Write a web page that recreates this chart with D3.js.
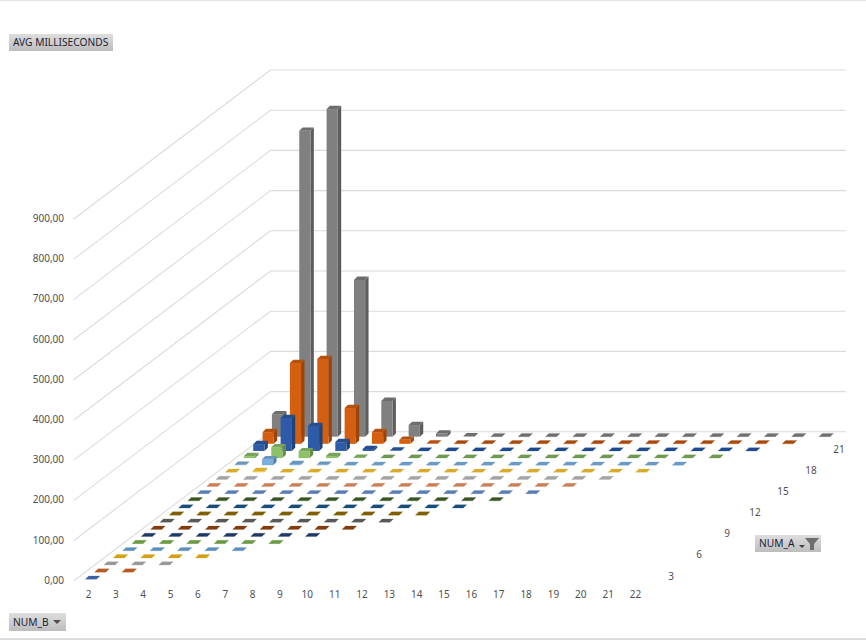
<!DOCTYPE html>
<html>
<head>
<meta charset="utf-8">
<script src="https://cdn.jsdelivr.net/npm/d3@7"></script>
<style>
  html, body { margin: 0; padding: 0; background: #fff; }
  text { font-family: "Noto Sans", sans-serif; }
</style>
</head>
<body>
<svg id="chart" width="866" height="640"></svg>
<script>
// NUM_B runs along the front, NUM_A goes back into the picture
var numB = d3.range(2, 23)
var numA = d3.range(1, 22)
var valueTicks = [0, 100, 200, 300, 400, 500, 600, 700, 800, 900]
var depthTicks = [3, 6, 9, 12, 15, 18, 21]

// only the back rows rise off the floor, the rest are all zero
var row21 = [56, 761, 815, 390, 89, 29, 8, 1, 0, 0, 0, 0, 0, 0, 0, 0, 0, 0, 0, 0, 0]
var row20 = [29, 201, 211, 89, 29, 10, 1, 0, 0, 0, 0, 0, 0, 0, 0, 0, 0, 0, 0, 0]
var row19 = [17, 82, 62, 22, 5, 1, 0, 0, 0, 0, 0, 0, 0, 0, 0, 0, 0, 0, 0]
var row18 = [5, 27, 17, 5, 1, 0, 0, 0, 0, 0, 0, 0, 0, 0, 0, 0, 0, 0]
var row17 = [1, 15, 3, 1, 0, 0, 0, 0, 0, 0, 0, 0, 0, 0, 0, 0, 0]
var row16 = [0, 3, 0, 0, 0, 0, 0, 0, 0, 0, 0, 0, 0, 0, 0, 0]

// tops of the flat rows in front, then the bar faces for the rows that stand up
var rowColors = ["#3a61a8", "#b85a24", "#999999", "#d4a017", "#5b8fbd", "#6b9a45", "#1f3864",
                 "#843c0c", "#595959", "#7f6000", "#1a4e7a", "#375623", "#5b7db5", "#c98059",
                 "#a3a3a3", "#d9aa2e", "#6a9bc3", "#6f9a52", "#1f4a8c", "#a84a0c", "#6f6f6f"]
var faceColors = {16: "#ffcd33", 17: "#7cafdd", 18: "#8cc168", 19: "#2e5ba8", 20: "#d55f10", 21: "#808080"}

var rows = {16: row16, 17: row17, 18: row18, 19: row19, 20: row20, 21: row21}

var dims = {width: 866, height: 640}
var barWidth = 11.2
var topShift = {x: 3.4, y: 3.3}

var svg = d3.select("#chart")

var xScale = d3.scaleLinear().domain([2, 22]).range([85.3, 632.3])
var yScale = d3.scaleLinear().domain([0, 900]).range([579, 217.2])
var depthX = d3.scaleLinear().domain([1, 21]).range([0, 186.6])
var depthY = d3.scaleLinear().domain([1, 21]).range([579.3, 436.7])

// window frame lines
svg.append("rect").attr("x", 0).attr("y", 0).attr("width", dims.width).attr("height", 1).attr("fill", "#e3e3e3")
svg.append("rect").attr("x", 0).attr("y", 638).attr("width", dims.width).attr("height", 2).attr("fill", "#dcdcdc")

// walls, side diagonals then the back lines
var wall = svg.append("g").attr("stroke", "#dcdcdc").attr("stroke-width", 1.1).attr("fill", "none")
wall.selectAll("path")
    .data(valueTicks)
    .enter()
    .append("path")
    .attr("d", d => {
        var rise = yScale(0) - yScale(d)
        return "M73.5," + (581 - rise) + "L270.5," + (431.8 - rise) + "L846," + (431.8 - rise)
    })

// value axis
var yAxisGen = d3.axisLeft(yScale)
                 .tickValues(valueTicks)
                 .tickSize(0)
                 .tickPadding(0)
                 .tickFormat(d => d3.format(".2f")(d).replace(".", ","))
var yAxis = svg.append("g")
               .attr("transform", "translate(64,1)")
               .call(yAxisGen)
yAxis.select(".domain").remove()

// front axis
var xLabelScale = d3.scaleLinear().domain([2, 22]).range([88, 635])
var xAxisGen = d3.axisBottom(xLabelScale)
                 .tickValues(numB)
                 .tickSize(0)
                 .tickPadding(0)
                 .tickFormat(d3.format("d"))
var xAxis = svg.append("g")
               .attr("transform", "translate(0,591)")
               .call(xAxisGen)
xAxis.select(".domain").remove()

svg.selectAll(".tick text")
   .attr("fill", "#505050")
   .attr("font-size", "10px")
   .style("font-family", '"Noto Sans", sans-serif')

// depth labels
svg.append("g")
   .selectAll("text")
   .data(depthTicks)
   .enter()
   .append("text")
   .attr("x", d => 671 + (d - 3) / 3 * 28)
   .attr("y", d => 576 - (d - 3) / 3 * 21.1)
   .attr("dy", "0.35em")
   .attr("text-anchor", "middle")
   .attr("font-size", "10px")
   .attr("fill", "#505050")
   .text(d => d)

// bars, back row first
function barValue(a, i) {
    return rows[a] ? rows[a][i] : 0
}

var barData = []
numA.slice().reverse().forEach(function(a) {
    numB.slice(0, a).forEach(function(b, i) {
        barData.push({a: a, b: b, value: barValue(a, i)})
    })
})

var bars = svg.append("g")
              .selectAll("g")
              .data(barData)
              .enter()
              .append("g")
              .attr("transform", d => "translate(" + (xScale(d.b) + depthX(d.a)) + "," + depthY(d.a) + ")")

function barHeight(d) {
    return yScale(0) - yScale(d.value)
}

bars.filter(d => d.value > 0)
    .append("path")
    .attr("fill", d => d3.color(faceColors[d.a]).darker(0.9))
    .attr("d", d => {
        var h = barHeight(d)
        return "M" + barWidth + ",0L" + (barWidth + topShift.x) + "," + (-topShift.y) +
               "L" + (barWidth + topShift.x) + "," + (-topShift.y - h) + "L" + barWidth + "," + (-h) + "Z"
    })

bars.filter(d => d.value > 0)
    .append("rect")
    .attr("x", 0)
    .attr("y", d => -barHeight(d))
    .attr("width", barWidth)
    .attr("height", barHeight)
    .attr("fill", d => faceColors[d.a])

bars.append("path")
    .attr("fill", d => d.value > 0 ? d3.color(faceColors[d.a]).darker(0.45) : rowColors[d.a - 1])
    .attr("stroke", d => d.value > 0 ? "none" : rowColors[d.a - 1])
    .attr("stroke-opacity", 0.3)
    .attr("stroke-width", 0.8)
    .attr("d", d => {
        var h = barHeight(d)
        return "M0," + (-h) + "L" + barWidth + "," + (-h) +
               "L" + (barWidth + topShift.x) + "," + (-h - topShift.y) +
               "L" + topShift.x + "," + (-h - topShift.y) + "Z"
    })

// pivot field buttons
var defs = svg.append("defs")
var grad = defs.append("linearGradient")
               .attr("id", "buttonFill")
               .attr("x1", 0).attr("y1", 0).attr("x2", 0).attr("y2", 1)
grad.append("stop").attr("offset", "0%").attr("stop-color", "#dedede")
grad.append("stop").attr("offset", "100%").attr("stop-color", "#bdbdbd")

function fieldButton(x, y, w, h, label) {
    var g = svg.append("g").attr("transform", "translate(" + x + "," + y + ")")
    g.append("rect").attr("width", w).attr("height", h).attr("fill", "url(#buttonFill)")
    g.append("text")
     .attr("x", 4)
     .attr("y", h / 2)
     .attr("dy", "0.35em")
     .attr("font-size", "10.2px")
     .attr("fill", "#1a2233")
     .text(label)
    return g
}

fieldButton(9, 34, 104, 17, "AVG MILLISECONDS")

var numBButton = fieldButton(9, 613, 57, 18, "NUM_B")
numBButton.append("path").attr("d", "M44,7L52,7L48,11Z").attr("fill", "#505050")

var numAButton = fieldButton(755, 535, 66, 17, "NUM_A")
numAButton.append("path").attr("d", "M44,10L50,10L47,13Z").attr("fill", "#404040")
numAButton.append("path").attr("d", "M50,3L64,3L59,9L59,15L55,15L55,9Z").attr("fill", "#6e6e6e")
</script>
</body>
</html>
